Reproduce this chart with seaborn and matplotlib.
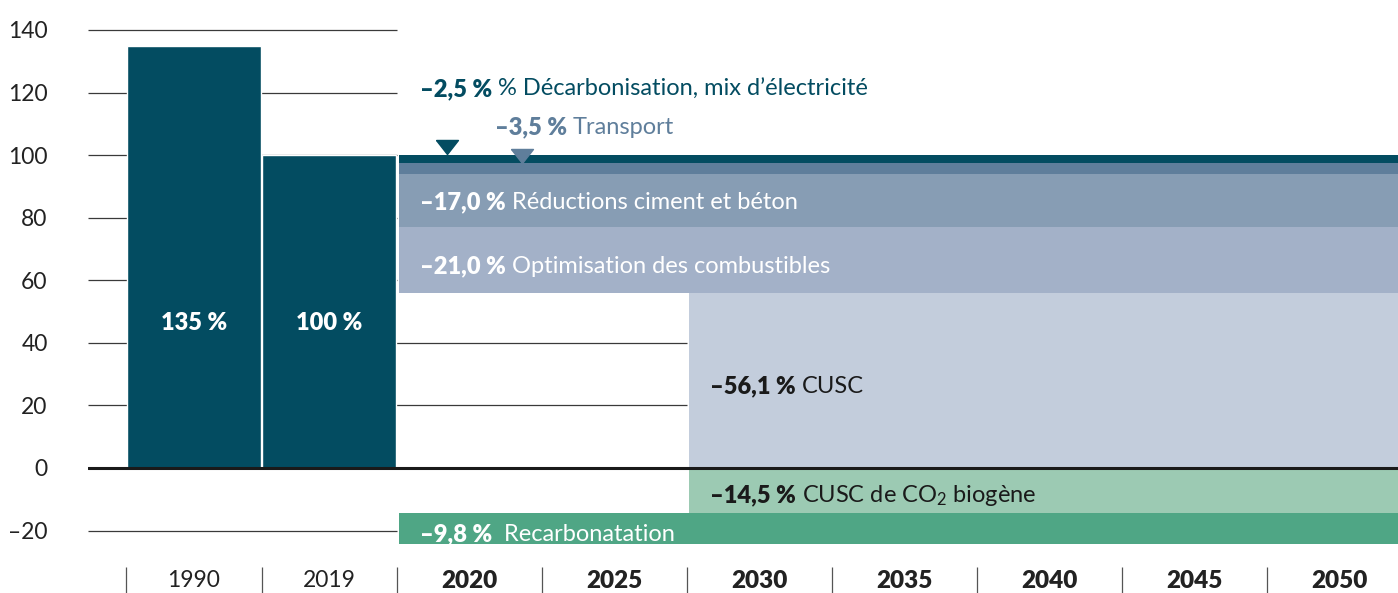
import numpy as np
import matplotlib
matplotlib.use("Agg")
import matplotlib.pyplot as plt
import seaborn as sns

# ---------------- data ----------------
years = ["1990", "2019", "2020", "2025", "2030", "2035", "2040", "2045", "2050"]
hist_years = ["1990", "2019"]
hist_values = [135, 100]
hist_labels = ["135 %", "100 %"]

lever_names = ["% Décarbonisation, mix d’électricité", "Transport",
               "Réductions ciment et béton", "Optimisation des combustibles",
               "CUSC", "CUSC de CO$_2$ biogène", " Recarbonatation"]
lever_values = [-2.5, -3.5, -17.0, -21.0, -56.1, -14.5, -9.8]
lever_start = ["2020", "2020", "2020", "2020", "2030", "2030", "2020"]
lever_side = ["pos", "pos", "pos", "pos", "pos", "neg", "neg"]

y_ticks = [-20, 0, 20, 40, 60, 80, 100, 120, 140]
y_ticklabels = ["–20", "0", "20", "40", "60", "80", "100", "120", "140"]

# ---------------- style ----------------
DARK = "#034c61"
lever_colors = [DARK, "#5f7e9b", "#879db4", "#a3b1c8", "#c3cddc", "#9ccab3", "#4fa685"]
lever_text_colors = [DARK, "#5f7e9b", "white", "white", "#1a1a1a", "#1a1a1a", "white"]

sns.set_theme(style="white")
plt.rcParams["font.family"] = ["Lato", "DejaVu Sans"]
plt.rcParams["mathtext.fontset"] = "custom"
plt.rcParams["mathtext.rm"] = "Lato"
plt.rcParams["mathtext.it"] = "Lato"
plt.rcParams["mathtext.bf"] = "Lato:bold"
plt.rcParams["mathtext.default"] = "regular"

FS = 17
TICK_FS = 16.5
HEAVY = "heavy"

fig = plt.figure(figsize=(13.98, 5.93), dpi=100)
ax = fig.add_axes([88 / 1398, 26 / 593, 1310 / 1398, (567 - 14.3) / 593])

# slot layout (x in slot units)
slot_w = [0.935, 0.935, 1, 1, 1, 1, 1, 1, 1]
edges = np.concatenate([[0], np.cumsum(slot_w)])
centers = (edges[:-1] + edges[1:]) / 2
XL, XR = -0.262, 8.772
YB, YT = -31.64, 145
ax.set_xlim(XL, XR)
ax.set_ylim(YB, YT)

# grid segments (behind)
grid_span = {20: 3.87, 40: 3.87}
for t in y_ticks:
    if t == 0:
        continue
    ax.hlines(t, XL, grid_span.get(t, edges[2]), color="#3a3a3a", lw=0.9, zorder=0)

# historic bars via seaborn
hist_x = [centers[years.index(y)] for y in hist_years]
sns.barplot(x=hist_x, y=hist_values, native_scale=True, width=0.925 / 0.935,
            color=DARK, saturation=1, ax=ax, zorder=2)
for x, lab in zip(hist_x, hist_labels):
    ax.text(x, 44.1, lab, color="white", fontweight=HEAVY, fontsize=17,
            ha="center", va="baseline", zorder=5)

# lever bands
gap = 0.015
pos_top = 100.0
neg_top = 0.0
for name, v, st, side, c in zip(lever_names, lever_values, lever_start, lever_side, lever_colors):
    left = edges[years.index(st)] + gap
    if side == "pos":
        top = pos_top
        pos_top += v
    else:
        top = neg_top
        neg_top += v
    ax.bar(left, v, bottom=top, width=XR + 0.5 - left, align="edge",
           color=c, linewidth=0, zorder=2)

ax.axhline(0, color="#1a1a1a", lw=2.2, zorder=4)

# triangle markers for thin levers
tri = [(-1, 0.64), (1, 0.64), (0, -0.64), (-1, 0.64)]
ax.plot([2.214], [102.6], marker=tri, markersize=15.8, color=DARK, lw=0, zorder=5)
ax.plot([2.731], [99.7], marker=tri, markersize=15.8, color="#5f7e9b", lw=0, zorder=5)

# axes/ticks
ax.set_yticks(y_ticks)
ax.set_yticklabels(y_ticklabels, fontsize=TICK_FS, color="#222222")
ax.tick_params(axis="y", length=0, pad=29)
ax.set_xticks(centers)
ax.set_xticklabels(years, fontsize=TICK_FS, color="#222222")
for lab, y in zip(ax.get_xticklabels(), years):
    if y not in hist_years:
        lab.set_fontweight(HEAVY)
        lab.set_fontsize(17.5)
ax.set_xticks(edges[:-1], minor=True)
ax.tick_params(axis="x", which="both", bottom=True)
ax.tick_params(axis="x", which="major", length=0, pad=2)
ax.tick_params(axis="x", which="minor", length=19, width=0.9, color="#555555", direction="out")
for s in ax.spines.values():
    s.set_visible(False)
ax.set_xlabel("")
ax.set_ylabel("")
ax.grid(False)
ax.set_xlim(XL, XR)
ax.set_ylim(YB, YT)

# labels
fig.canvas.draw()
renderer = fig.canvas.get_renderer()
inv = ax.transData.inverted()

def px2x(px):
    return (px - 126) / 145

def px2y(py):
    return (468 - py) / 3.129

label_pos = [(420, 96), (495, 134), (420, 209), (420, 273), (710, 393), (710, 502), (420, 541)]
for name, v, (lx, ly), tc in zip(lever_names, lever_values, label_pos, lever_text_colors):
    bold = ("–%.1f %%" % abs(v)).replace(".", ",")
    t1 = ax.text(px2x(lx), px2y(ly), bold, fontweight=HEAVY, color=tc, fontsize=FS,
                 ha="left", va="baseline", zorder=6)
    bb = t1.get_window_extent(renderer)
    x2 = inv.transform((bb.x1 + 6, bb.y0))[0]
    ax.text(x2, px2y(ly), name, color=tc, fontsize=FS, ha="left", va="baseline", zorder=6)

fig.savefig("out.png", dpi=100)
